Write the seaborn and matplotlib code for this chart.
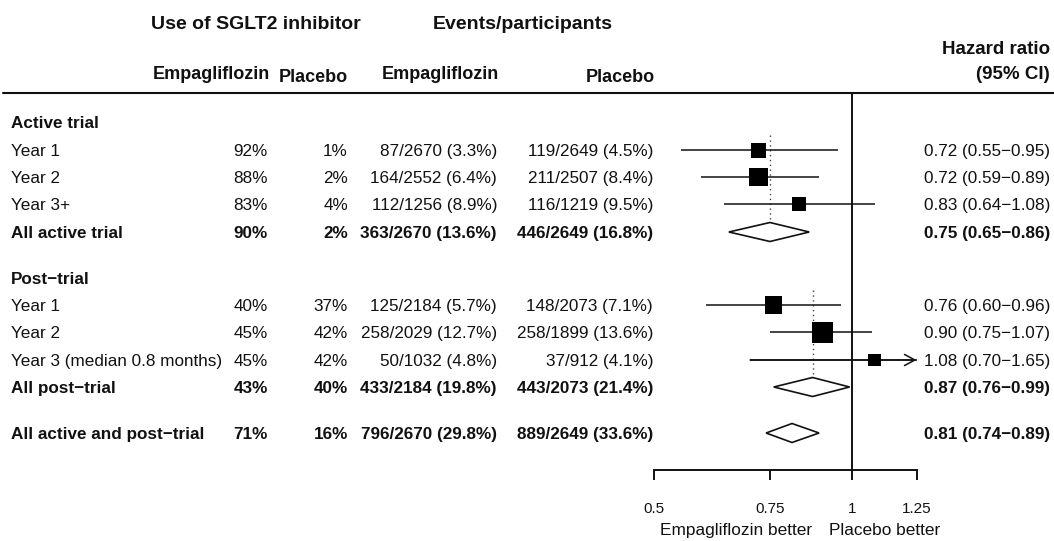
import numpy as np
import pandas as pd
import matplotlib
matplotlib.use("Agg")
import matplotlib.pyplot as plt
from matplotlib.ticker import NullLocator
import seaborn as sns

# ---- data -------------------------------------------------------------
row_labels = ["Year 1", "Year 2", "Year 3+", "All active trial",
              "Year 1", "Year 2", "Year 3 (median 0.8 months)", "All post\u2212trial",
              "All active and post\u2212trial"]
row_kind = ["sub", "sub", "sub", "total",
            "sub", "sub", "sub", "total",
            "total"]
section_titles = ["Active trial", "Post\u2212trial"]

emp_use = [92, 88, 83, 90, 40, 45, 45, 43, 71]
pla_use = [1, 2, 4, 2, 37, 42, 42, 40, 16]

emp_events = [87, 164, 112, 363, 125, 258, 50, 433, 796]
emp_total = [2670, 2552, 1256, 2670, 2184, 2029, 1032, 2184, 2670]
emp_rate = [3.3, 6.4, 8.9, 13.6, 5.7, 12.7, 4.8, 19.8, 29.8]
pla_events = [119, 211, 116, 446, 148, 258, 37, 443, 889]
pla_total = [2649, 2507, 1219, 2649, 2073, 1899, 912, 2073, 2649]
pla_rate = [4.5, 8.4, 9.5, 16.8, 7.1, 13.6, 4.1, 21.4, 33.6]

hr = [0.72, 0.72, 0.83, 0.75, 0.76, 0.90, 1.08, 0.87, 0.81]
hr_lo = [0.55, 0.59, 0.64, 0.65, 0.60, 0.75, 0.70, 0.76, 0.74]
hr_hi = [0.95, 0.89, 1.08, 0.86, 0.96, 1.07, 1.65, 0.99, 0.89]

axis_ticks = [0.5, 0.75, 1, 1.25]
axis_tick_labels = ["0.5", "0.75", "1", "1.25"]

# ---- layout (figure pixels, y measured from the top) -------------------
W, H = 1054, 541
row_y = [150, 177, 204, 232, 305, 332, 360, 387, 433]
section_y = [122, 278]
box_px = [15, 18.7, 14.7, None, 17.3, 21, 12.3, None, None]
col_emp_use, col_pla_use = 268, 348
col_emp_ev, col_pla_ev = 497, 653
col_hr = 1050
label_x = 11
rule_y, axis_y = 93, 470
px_per_log = 287.0
one_px = 852.5
diamond_half = 9.5
body_size = 12.3

sns.set_style("white")
plt.rcParams["font.family"] = ["Liberation Sans", "DejaVu Sans"]
ink = "#111111"

fig = plt.figure(figsize=(W / 100, H / 100), dpi=100)
ax = fig.add_axes([0, 0, 1, 1])
ax.set_xscale("log")

# squares for individual periods
df = pd.DataFrame({"label": row_labels, "kind": row_kind, "y": row_y,
                   "hr": hr, "lo": hr_lo, "hi": hr_hi, "box": box_px})
subs = df[df["kind"] == "sub"].copy()
subs["key"] = [f"r{i}" for i in subs.index]
size_map = {k: (b * 0.72) ** 2 for k, b in zip(subs["key"], subs["box"])}
sns.scatterplot(data=subs, x="hr", y="y", size="key", sizes=size_map,
                marker="s", color="black", edgecolor="none", legend=False,
                ax=ax, zorder=4)

xmax = axis_ticks[-1]
for _, r in subs.iterrows():
    if r["hi"] > xmax:
        ax.hlines(r["y"], r["lo"], xmax, color=ink, lw=1.1, zorder=3)
        ax.annotate("", xy=(xmax, r["y"]), xytext=(r["lo"], r["y"]),
                    arrowprops=dict(arrowstyle="->,head_length=0.75,head_width=0.4",
                                    lw=1.1, color=ink, shrinkA=0, shrinkB=0),
                    zorder=3)
    else:
        ax.hlines(r["y"], r["lo"], r["hi"], color=ink, lw=1.1, zorder=3)

# diamonds for pooled estimates
for _, r in df[df["kind"] == "total"].iterrows():
    xs = [r["lo"], r["hr"], r["hi"], r["hr"], r["lo"]]
    ys = [r["y"], r["y"] - diamond_half, r["y"], r["y"] + diamond_half, r["y"]]
    ax.fill(xs, ys, facecolor="white", edgecolor=ink, lw=1.2, zorder=3)

# dotted reference at each section's pooled estimate
for first, total in [(0, 3), (4, 7)]:
    ax.vlines(hr[total], row_y[first] - 15, row_y[total] - diamond_half,
              colors="#444444", linestyles=(0, (1, 2.5)), lw=1.0, zorder=2)

# line of no effect and header rule
ax.vlines(1, rule_y, axis_y, colors=ink, lw=1.4, zorder=2)
ax.axhline(rule_y, xmin=3 / W, xmax=1, color=ink, lw=1.5)

# x axis
for s in ["top", "left", "right"]:
    ax.spines[s].set_visible(False)
ax.spines["bottom"].set_position(("data", axis_y))
ax.spines["bottom"].set_bounds(axis_ticks[0], axis_ticks[-1])
ax.spines["bottom"].set_linewidth(1.4)
ax.spines["bottom"].set_color(ink)
ax.set_xticks(axis_ticks, labels=axis_tick_labels)
ax.xaxis.set_minor_locator(NullLocator())
ax.tick_params(axis="x", direction="out", length=7.2, width=1.4, pad=16,
               labelsize=11, colors=ink, bottom=True)
ax.set_yticks([])
ax.set_xlabel("")
ax.set_ylabel("")
ax.set_xlim(np.exp(-one_px / px_per_log), np.exp((W - one_px) / px_per_log))
ax.set_ylim(H, 0)

tr = ax.get_yaxis_transform()


def put(x, y, s, ha="left", bold=False, size=body_size):
    # y is the vertical centre of the capital letters; place by baseline
    base = y + 0.358 * size * 100 / 72
    ax.text(x / W, base, s, transform=tr, ha=ha, va="baseline", fontsize=size,
            fontweight="bold" if bold else "normal", color=ink)


# column headers
put(256, 22, "Use of SGLT2 inhibitor", ha="center", bold=True, size=14)
put(523, 22, "Events/participants", ha="center", bold=True, size=14)
put(col_hr, 47, "Hazard ratio", ha="right", bold=True, size=13.5)
put(col_hr, 72, "(95% CI)", ha="right", bold=True, size=13.5)
put(col_emp_use + 2, 73, "Empagliflozin", ha="right", bold=True, size=13)
put(col_pla_use, 76, "Placebo", ha="right", bold=True, size=13)
put(col_emp_ev + 2, 73, "Empagliflozin", ha="right", bold=True, size=13)
put(col_pla_ev + 2, 76, "Placebo", ha="right", bold=True, size=13)

for title, y in zip(section_titles, section_y):
    put(label_x, y, title, bold=True)

for i, lab in enumerate(row_labels):
    y = row_y[i]
    b = row_kind[i] == "total"
    put(label_x, y, lab, bold=b)
    put(col_emp_use, y, f"{emp_use[i]}%", ha="right", bold=b)
    put(col_pla_use, y, f"{pla_use[i]}%", ha="right", bold=b)
    put(col_emp_ev, y, f"{emp_events[i]}/{emp_total[i]} ({emp_rate[i]:.1f}%)", ha="right", bold=b)
    put(col_pla_ev, y, f"{pla_events[i]}/{pla_total[i]} ({pla_rate[i]:.1f}%)", ha="right", bold=b)
    put(col_hr, y, f"{hr[i]:.2f} ({hr_lo[i]:.2f}\u2212{hr_hi[i]:.2f})", ha="right", bold=b)

put(812, 529, "Empagliflozin better", ha="right", size=12.4)
put(829, 529, "Placebo better", ha="left", size=12.4)

fig.savefig("out.png", dpi=100)
